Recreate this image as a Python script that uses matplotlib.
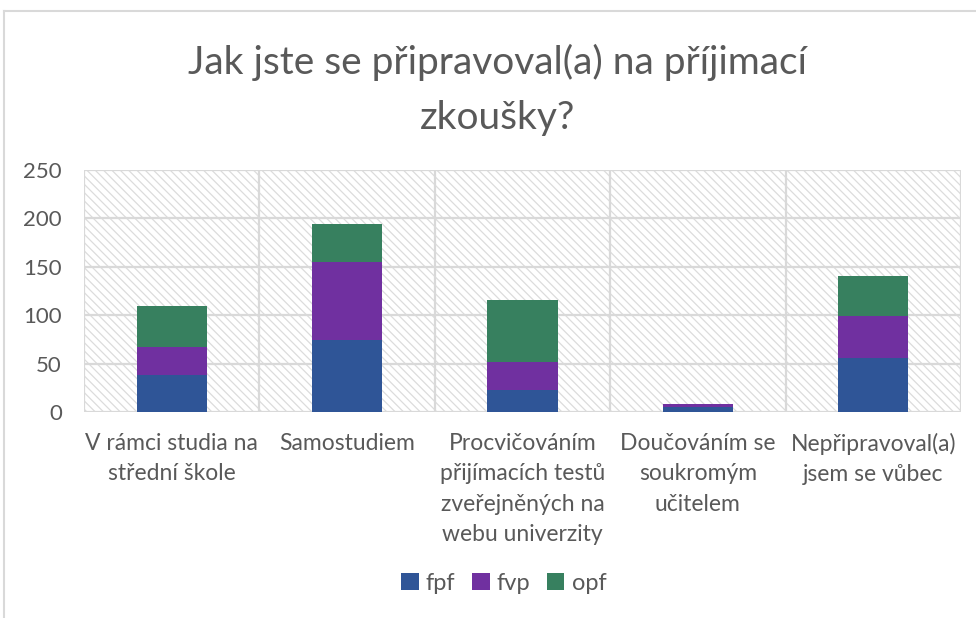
import matplotlib
matplotlib.use('Agg')
import matplotlib.pyplot as plt
from matplotlib.patches import Patch, Rectangle
from matplotlib.lines import Line2D
import numpy as np

plt.rcParams['font.family'] = ['Lato', 'DejaVu Sans']
plt.rcParams['hatch.linewidth'] = 0.9

# data
categories = [
    'V rámci studia na\nstřední škole',
    'Samostudiem',
    'Procvičováním\npřijímacích testů\nzveřejněných na\nwebu univerzity',
    'Doučováním se\nsoukromým\nučitelem',
    'Nepřipravoval(a)\njsem se vůbec',
]
fpf = [38, 74, 23, 5, 56]
fvp = [29, 81, 29, 3, 43]
opf = [42, 39, 64, 0, 41]
series_names = ['fpf', 'fvp', 'opf']
colors = ['#2f5597', '#7030a0', '#37805f']
yticks = [0, 50, 100, 150, 200, 250]

text_color = '#595959'
grid_color = '#d9d9d9'

fig = plt.figure(figsize=(9.76, 6.18), dpi=100)
ax = fig.add_axes([84 / 976, 1 - 412 / 618, (961 - 84) / 976, (412 - 170) / 618])

x = np.arange(len(categories))
ax.set_xlim(-0.5, len(categories) - 0.5)
ax.set_ylim(0, 250)

# hatched plot area background
ax.add_patch(Rectangle((0, 0), 1, 1, transform=ax.transAxes, facecolor='white',
                       edgecolor='#dcdcdc', hatch='\\\\\\\\', linewidth=0, zorder=0))

# grid: horizontal at ticks, vertical at category boundaries
for yv in yticks:
    ax.axhline(yv, color=grid_color, linewidth=1.6, zorder=1)
for xv in np.arange(-0.5, len(categories), 1.0):
    ax.axvline(xv, color=grid_color, linewidth=1.6, zorder=1)

bottom = np.zeros(len(categories))
for vals, name, col in zip([fpf, fvp, opf], series_names, colors):
    ax.bar(x, vals, width=0.4, bottom=bottom, color=col, label=name, zorder=3)
    bottom += np.array(vals)

for s in ax.spines.values():
    s.set_visible(False)

ax.set_yticks(yticks)
ax.set_yticklabels([str(v) for v in yticks])
ax.set_xticks(x)
ax.set_xticklabels(categories, linespacing=1.55)
ax.tick_params(axis='both', length=0, colors=text_color)
ax.tick_params(axis='y', pad=16, labelsize=16)
ax.tick_params(axis='x', pad=15, labelsize=16.5)

fig.text(0.51, 1 - 90 / 618, 'Jak jste se připravoval(a) na příjimací\nzkoušky?',
         ha='center', va='center', fontsize=28, color=text_color, linespacing=1.68)

handles = [Patch(facecolor=c, edgecolor='none') for c in colors]
fig.legend(handles, series_names, loc='center', bbox_to_anchor=(0.516, 1 - 583 / 618),
           ncol=3, frameon=False, fontsize=17, labelcolor=text_color,
           handlelength=0.75, handleheight=0.75, handletextpad=0.3, columnspacing=0.7)

# chart frame (left and top edges)
fig.add_artist(Line2D([4 / 976, 4 / 976], [0, 1 - 11 / 618], transform=fig.transFigure,
                      color=grid_color, linewidth=1.5))
fig.add_artist(Line2D([4 / 976, 1], [1 - 11 / 618, 1 - 11 / 618], transform=fig.transFigure,
                      color=grid_color, linewidth=1.5))

fig.savefig('out.png', dpi=100)
